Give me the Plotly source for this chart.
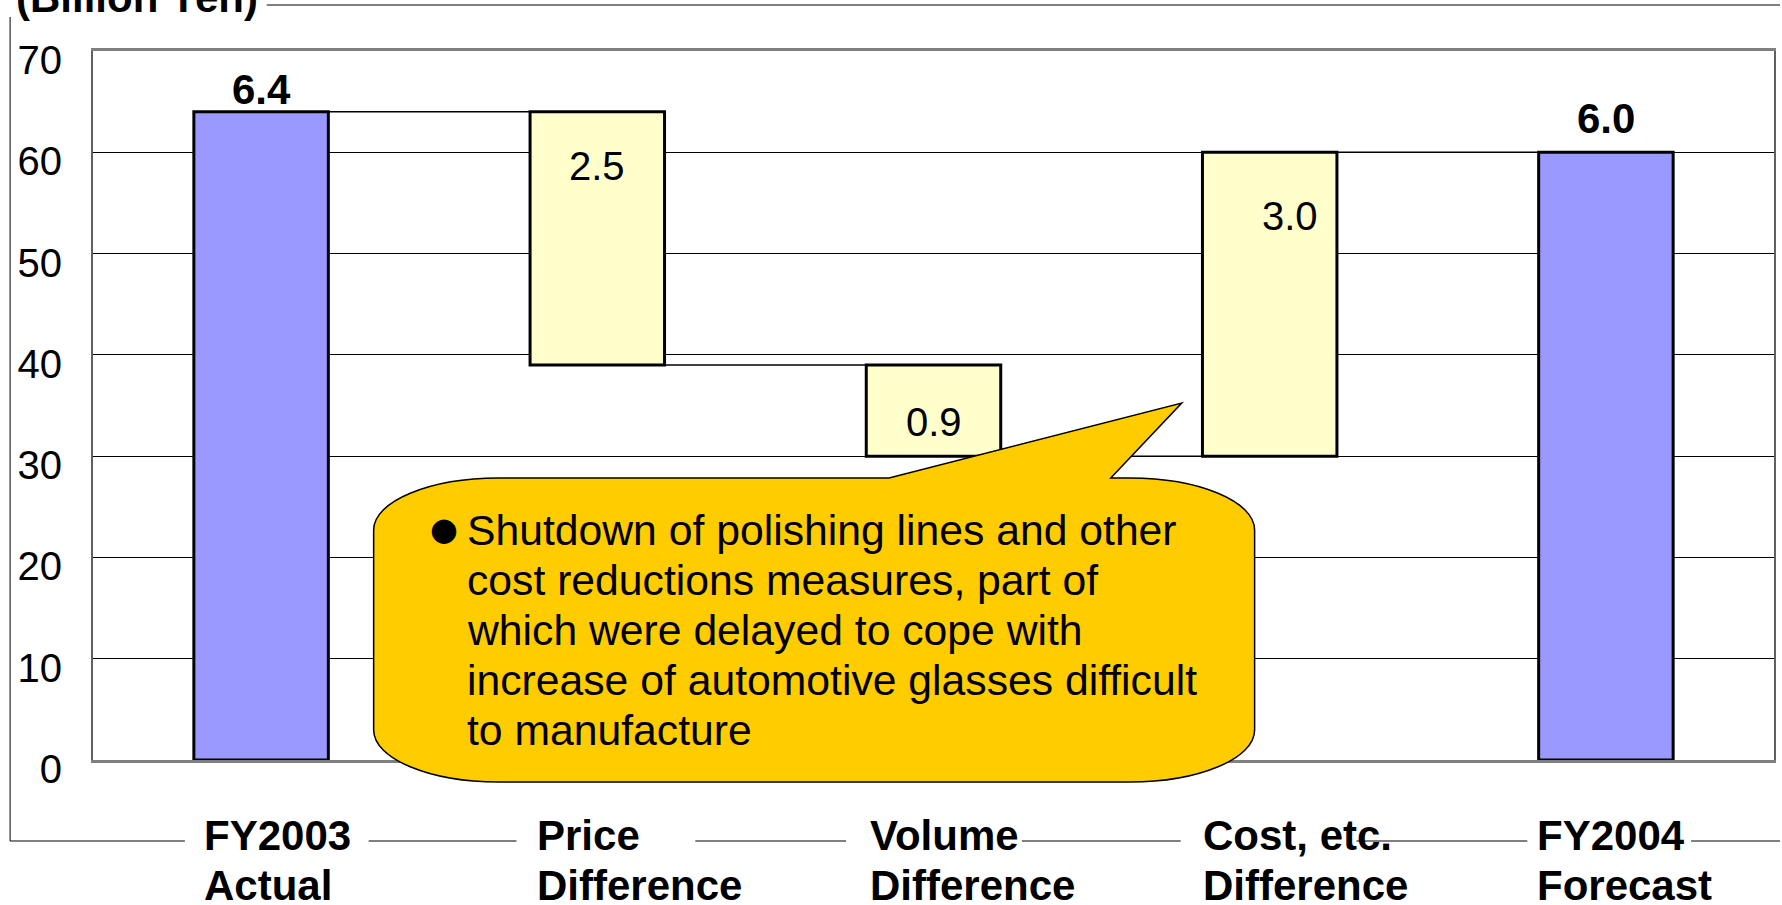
import plotly.graph_objects as go

# --- data (axis units: 100 million yen; labels in billion yen) ---
CATEGORY_TOP = ["FY2003", "Price", "Volume", "Cost, etc.", "FY2004"]
CATEGORY_BOTTOM = ["Actual", "Difference", "Difference", "Difference", "Forecast"]
BAR_BASE = [0, 39, 30, 30, 0]
BAR_TOP = [64, 64, 39, 60, 60]
VALUE_LABELS = ["6.4", "2.5", "0.9", "3.0", "6.0"]
IS_TOTAL = [True, False, False, False, True]
Y_TICKS = [0, 10, 20, 30, 40, 50, 60, 70]
UNIT_LABEL = "(Billion Yen)"
CALLOUT_LINES = [
    "Shutdown of polishing lines and other",
    "cost reductions measures, part of",
    "which were delayed to cope with",
    "increase of automotive glasses difficult",
    "to manufacture",
]

# --- page geometry ---
W, H = 1782, 905
ML, MR, MT, MB = 93, 6, 51, 145
PW, PH = W - ML - MR, H - MT - MB
FONT = "Liberation Sans, Arial, sans-serif"
BLUE = "#9999FF"
PALE = "#FFFFCC"
GOLD = "#FFCC00"
BAR_W = 0.4


def px_x(px):
    return (px - ML) / PW


def px_y(py):
    return (MT + PH - py) / PH


x = list(range(len(CATEGORY_TOP)))

fig = go.Figure()
fig.add_trace(
    go.Bar(
        x=x,
        y=[t - b for t, b in zip(BAR_TOP, BAR_BASE)],
        base=BAR_BASE,
        width=BAR_W,
        marker=dict(
            color=[BLUE if tot else PALE for tot in IS_TOTAL],
            line=dict(color="black", width=3),
        ),
        hoverinfo="skip",
        showlegend=False,
    )
)

# connector lines between consecutive bars
for i in range(len(x) - 1):
    shared = {BAR_BASE[i], BAR_TOP[i]} & {BAR_BASE[i + 1], BAR_TOP[i + 1]}
    level = max(shared)
    fig.add_trace(
        go.Scatter(
            x=[x[i] + BAR_W / 2, x[i + 1] - BAR_W / 2],
            y=[level, level],
            mode="lines",
            line=dict(color="black", width=1.5),
            hoverinfo="skip",
            showlegend=False,
        )
    )

annotations = []
# value labels
value_shift = {0: (0, 22), 4: (0, 34), 1: (0, -54), 2: (0, -57), 3: (20, -64)}
for i, lab in enumerate(VALUE_LABELS):
    dx, dy = value_shift[i]
    annotations.append(
        dict(
            x=x[i], y=BAR_TOP[i], xref="x", yref="y", text=f"<b>{lab}</b>" if IS_TOTAL[i] else lab,
            showarrow=False, xanchor="center", yanchor="middle", xshift=dx, yshift=dy,
            font=dict(size=42 if IS_TOTAL[i] else 40, color="black", family=FONT),
        )
    )

# category labels (two lines, left aligned near the bar edge)
for i in x:
    for line_no, txt in enumerate((CATEGORY_TOP[i], CATEGORY_BOTTOM[i])):
        annotations.append(
            dict(
                x=x[i] - BAR_W / 2, y=px_y(835.5 + 50 * line_no), xref="x", yref="paper",
                text=f"<b>{txt}</b>", showarrow=False, xanchor="left", yanchor="middle",
                xshift=8 - 3 * i, font=dict(size=42, color="black", family=FONT),
            )
        )

# unit label (clipped at the top of the page)
annotations.append(
    dict(
        x=px_x(14), y=px_y(-2.5), xref="paper", yref="paper", text=f"<b>{UNIT_LABEL}</b>",
        showarrow=False, xanchor="left", yanchor="middle",
        font=dict(size=42, color="black", family=FONT),
    )
)

# callout text
annotations.append(
    dict(
        x=px_x(428), y=px_y(529), xref="paper", yref="paper", text="●",
        showarrow=False, xanchor="left", yanchor="middle",
        font=dict(size=32, color="black", family="DejaVu Sans"),
    )
)
for k, line in enumerate(CALLOUT_LINES):
    annotations.append(
        dict(
            x=px_x(465), y=px_y(530 + 50 * k), xref="paper", yref="paper", text=line,
            showarrow=False, xanchor="left", yanchor="middle",
            font=dict(size=42.7, color="black", family=FONT),
        )
    )

# callout balloon (rounded rectangle with a pointer)
cx0, cx1, cy0, cy1, rx, ry = 374, 1256, 478, 782, 125, 52
kk = 0.5523
pts = [
    ("M", [(cx0 + rx, cy0)]),
    ("L", [(890, cy0)]),
    ("L", [(1183, 403)]),
    ("L", [(1112, cy0)]),
    ("L", [(cx1 - rx, cy0)]),
    ("C", [(cx1 - rx + kk * rx, cy0), (cx1, cy0 + ry - kk * ry), (cx1, cy0 + ry)]),
    ("L", [(cx1, cy1 - ry)]),
    ("C", [(cx1, cy1 - ry + kk * ry), (cx1 - rx + kk * rx, cy1), (cx1 - rx, cy1)]),
    ("L", [(cx0 + rx, cy1)]),
    ("C", [(cx0 + rx - kk * rx, cy1), (cx0, cy1 - ry + kk * ry), (cx0, cy1 - ry)]),
    ("L", [(cx0, cy0 + ry)]),
    ("C", [(cx0, cy0 + ry - kk * ry), (cx0 + rx - kk * rx, cy0), (cx0 + rx, cy0)]),
]
path = ""
for cmd, cps in pts:
    path += cmd + " ".join(f"{px_x(a):.5f},{px_y(b):.5f}" for a, b in cps) + " "
path += "Z"

frame = dict(color="black", width=1)
shapes = [
    dict(type="path", path=path, xref="paper", yref="paper", layer="above",
         fillcolor=GOLD, line=dict(color="black", width=1.5)),
    # outer frame: left and top
    dict(type="line", xref="paper", yref="paper", x0=px_x(10), x1=px_x(10),
         y0=px_y(17), y1=px_y(841), line=frame),
    dict(type="line", xref="paper", yref="paper", x0=px_x(267), x1=px_x(W),
         y0=px_y(5), y1=px_y(5), line=frame),
]
# outer frame bottom, broken behind the category labels
bottom_segments = [(10, 185), (369, 517), (696, 847), (1023, 1182), (1358, 1529), (1693, W)]
for a, b in bottom_segments:
    shapes.append(dict(type="line", xref="paper", yref="paper", x0=px_x(a), x1=px_x(b),
                       y0=px_y(841), y1=px_y(841), line=frame))

fig.update_layout(
    width=W,
    height=H,
    margin=dict(l=ML, r=MR, t=MT, b=MB, pad=0),
    paper_bgcolor="white",
    plot_bgcolor="white",
    font=dict(family=FONT, color="black"),
    showlegend=False,
    annotations=annotations,
    shapes=shapes,
)
fig.update_xaxes(
    range=[-0.5, len(x) - 0.5],
    showgrid=False,
    zeroline=False,
    showticklabels=False,
    ticks="",
    showline=True,
    linecolor="#808080",
    linewidth=3,
    mirror=True,
)
fig.update_yaxes(
    range=[0, 70],
    tickvals=Y_TICKS,
    showgrid=True,
    gridcolor="black",
    gridwidth=1,
    zeroline=False,
    ticks="",
    ticklabelstandoff=21,
    ticklabelshift=9,
    tickfont=dict(size=40, color="black", family=FONT),
    showline=True,
    linecolor="#606060",
    linewidth=2,
    mirror=True,
)

fig.write_html(
    "out.html",
    config={"displayModeBar": False},
    post_script="document.body.style.margin='0';",
)
